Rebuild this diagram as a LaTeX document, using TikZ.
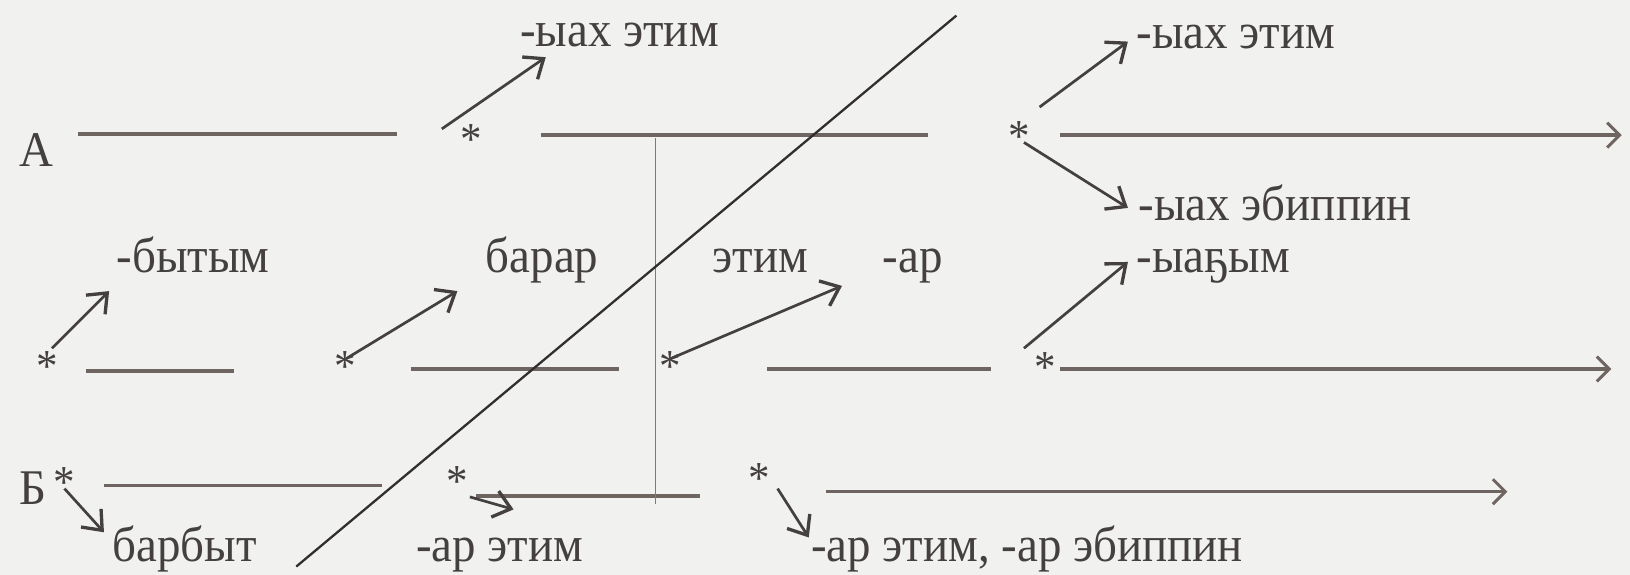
\documentclass[tikz,border=0pt]{standalone}
\usepackage{fontspec}
\setmainfont[FakeStretch=0.94]{Liberation Serif}
\usetikzlibrary{arrows.meta}
\definecolor{paper}{RGB}{241,241,239}
\definecolor{ink}{RGB}{68,64,64}
\definecolor{rule}{RGB}{110,101,96}
\definecolor{slash}{RGB}{50,46,46}

\begin{document}
\begin{tikzpicture}[x=0.5pt,y=-0.5pt,
    lbl/.style={anchor=base west,inner sep=0pt,text=ink,font=\fontsize{24}{28}\selectfont},
    star/.style={inner sep=0pt,text=ink,font=\fontsize{22}{26}\selectfont},
    bar/.style={rule,line width=1.6pt},
    arr/.style={ink,line width=1.3pt,-{Straight Barb[length=8pt,width=13pt,line width=1.6pt]}},
    longarr/.style={bar,-{Straight Barb[length=6pt,width=12pt,line width=1.4pt]}}]

\fill[paper] (0,0) rectangle (1568,553);
\useasboundingbox (0,0) rectangle (1568,553);

% row labels
\node[lbl] (A) at (18,160) {А};
\node[lbl] (B) at (18,485) {Б};

% stars
\node[star] (sA1) at (453,134) {*};
\node[star] (sA2) at (980,131) {*};
\node[star] (sM1) at (45,353) {*};
\node[star] (sM2) at (332,353) {*};
\node[star] (sM3) at (645,353) {*};
\node[star] (sM4) at (1005,354) {*};
\node[star] (sB1) at (62,464) {*};
\node[star] (sB2) at (440,463) {*};
\node[star] (sB3) at (730,460) {*};

% texts
\node[lbl] (tA1) at (500,45) {-ыах этим};
\node[lbl] (tA2) at (1093,47) {-ыах этим};
\node[lbl] (tA3) at (1095,212) {-ыах эбиппин};
\node[lbl] (tM1) at (112,262) {-бытым};
\node[lbl] (tM2) at (467,262) {барар};
\node[lbl] (tM3) at (685,262) {этим\hspace{1.5em}-ар};
\node[lbl] (tM4) at (1093,262) {-ыаҕым};
\node[lbl] (tB1) at (108,540) {барбыт};
\node[lbl] (tB2) at (400,540) {-ар этим};
\node[lbl] (tB3) at (780,540) {-ар этим, -ар эбиппин};

% line ends
\coordinate (a1) at (75,129);   \coordinate (a2) at (382,129);
\coordinate (a3) at (520,130);  \coordinate (a4) at (893,130);
\coordinate (a5) at (1020,130); \coordinate (a6) at (1560,130);
\coordinate (m1) at (83,357);   \coordinate (m2) at (225,357);
\coordinate (m3) at (395,355);  \coordinate (m4) at (595,355);
\coordinate (m5) at (738,355);  \coordinate (m6) at (953,355);
\coordinate (m7) at (1020,355); \coordinate (m8) at (1550,355);
\coordinate (b1) at (100,467);  \coordinate (b2) at (367,467);
\coordinate (b3) at (458,477);  \coordinate (b4) at (673,477);
\coordinate (b5) at (795,473);  \coordinate (b6) at (1450,473);
\coordinate (v1) at (630,133);  \coordinate (v2) at (630,485);
\coordinate (d1) at (920,15);   \coordinate (d2) at (285,545);

\draw[bar] (a1) -- (a2);
\draw[bar] (a3) -- (a4);
\draw[longarr] (a5) -- (a6);
\draw[bar] (m1) -- (m2);
\draw[bar] (m3) -- (m4);
\draw[bar] (m5) -- (m6);
\draw[longarr] (m7) -- (m8);
\draw[bar] (b1) -- (b2);
\draw[bar] (b3) -- (b4);
\draw[longarr] (b5) -- (b6);
\draw[ink!70,line width=0.4pt] (v1) -- (v2);
\draw[slash,line width=1.1pt] (d1) -- (d2);

% arrows to the endings
\coordinate (pA1) at (425,124);  \coordinate (qA1) at (525,55);
\coordinate (pA2) at (1000,103); \coordinate (qA2) at (1085,40);
\coordinate (pA3) at (985,137);  \coordinate (qA3) at (1085,200);
\coordinate (pM1) at (50,335);   \coordinate (qM1) at (105,280);
\coordinate (pM2) at (333,345);  \coordinate (qM2) at (440,280);
\coordinate (pM3) at (645,345);  \coordinate (qM3) at (810,275);
\coordinate (pM4) at (985,335);  \coordinate (qM4) at (1085,252);
\coordinate (pB1) at (62,470);   \coordinate (qB1) at (100,512);
\coordinate (pB2) at (452,478);  \coordinate (qB2) at (494,490);
\coordinate (pB3) at (748,470);  \coordinate (qB3) at (778,517);

\draw[arr] (pA1) -- (qA1);
\draw[arr] (pA2) -- (qA2);
\draw[arr] (pA3) -- (qA3);
\draw[arr] (pM1) -- (qM1);
\draw[arr] (pM2) -- (qM2);
\draw[arr] (pM3) -- (qM3);
\draw[arr] (pM4) -- (qM4);
\draw[arr] (pB1) -- (qB1);
\draw[arr] (pB2) -- (qB2);
\draw[arr] (pB3) -- (qB3);
\end{tikzpicture}
\end{document}
